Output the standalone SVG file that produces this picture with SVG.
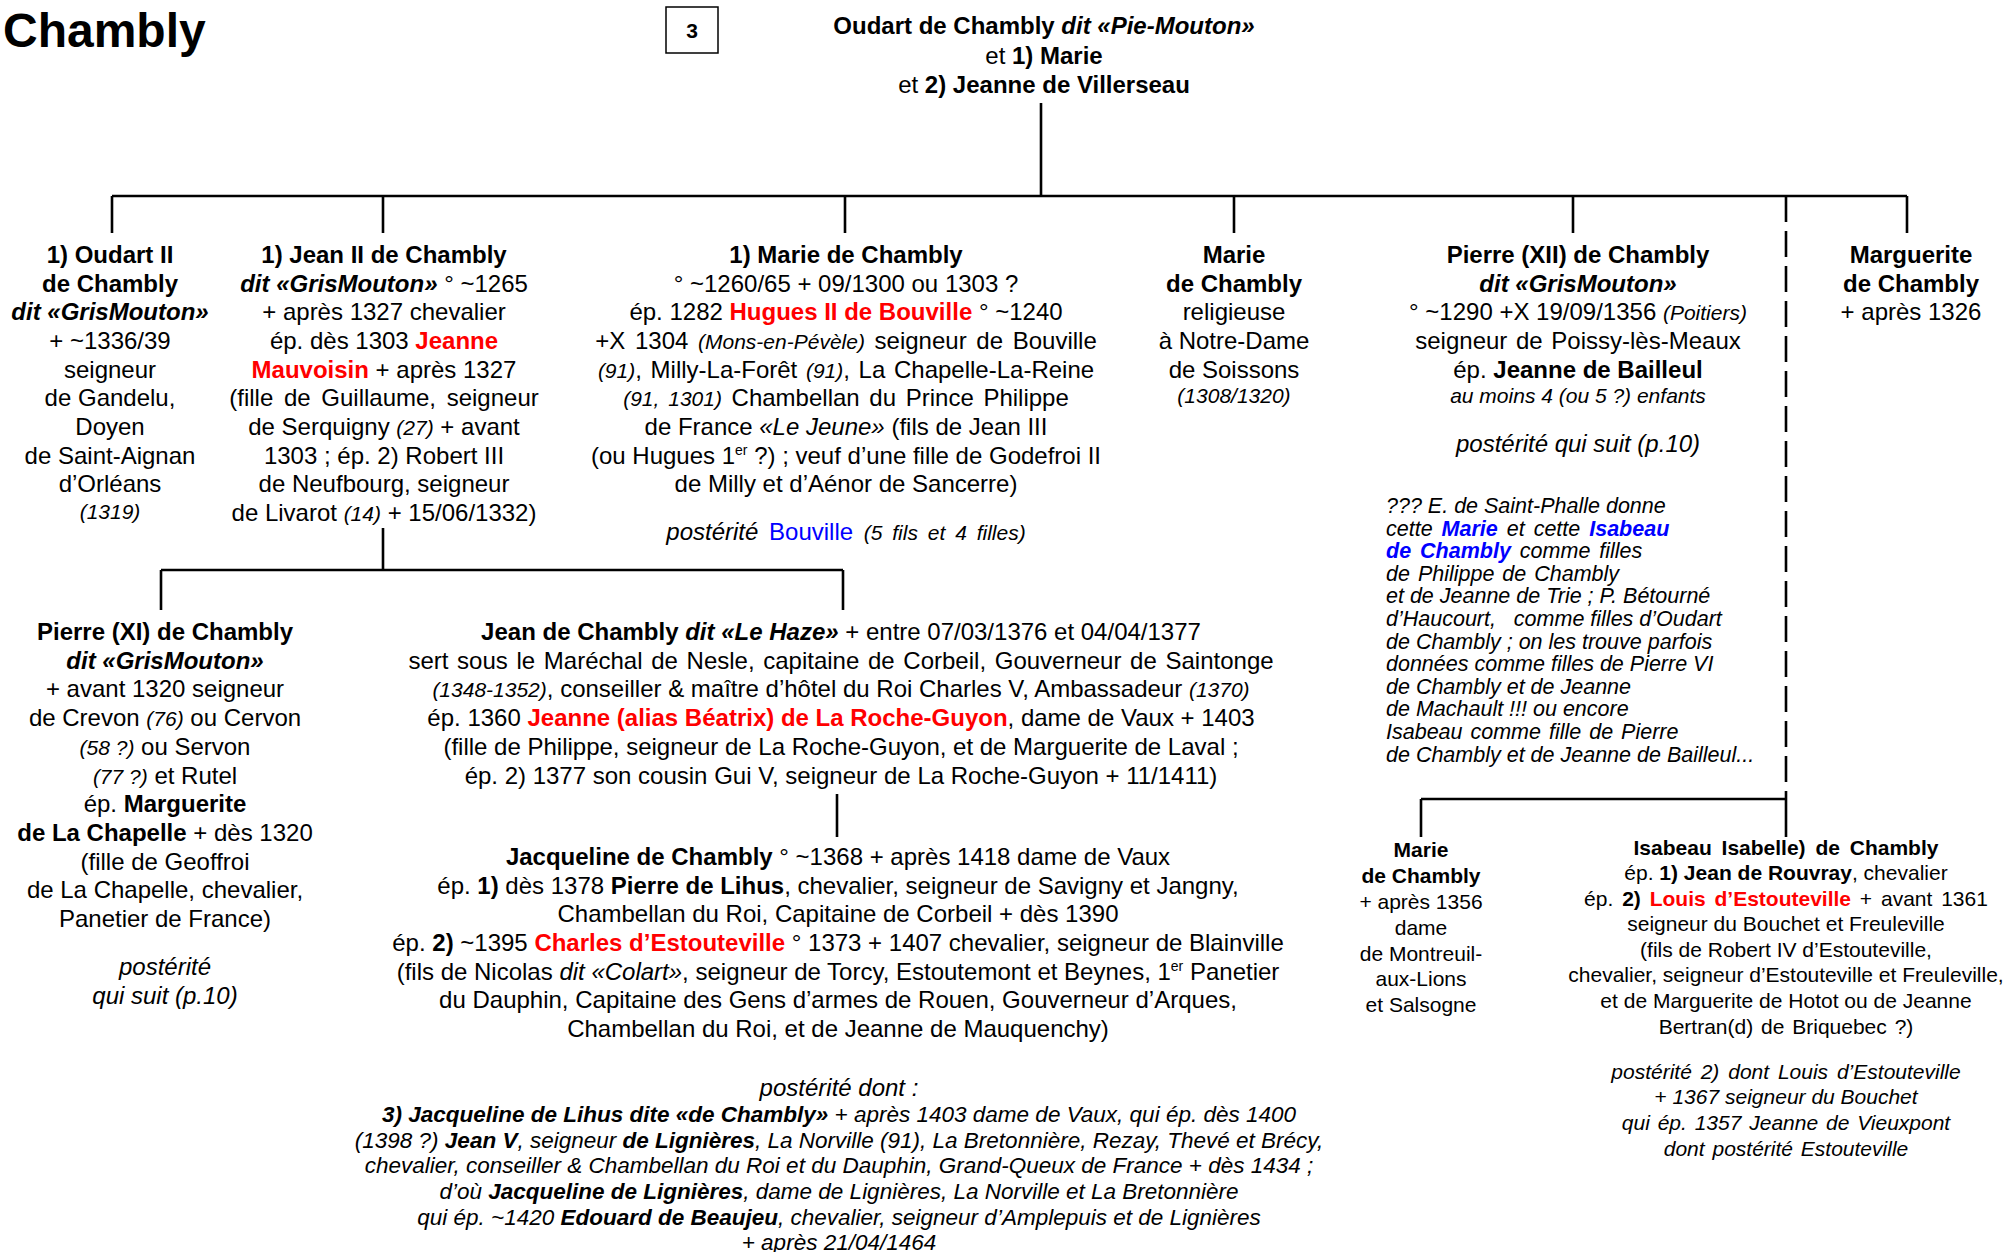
<svg xmlns="http://www.w3.org/2000/svg" width="2011" height="1252" viewBox="0 0 2011 1252">
<style>
text { font-family: "Liberation Sans", Arial, sans-serif; font-size: 24px; fill: #000; text-anchor: middle; }
.l { text-anchor: start; }
.s { font-size: 21px; }
.n { font-size: 21.5px; font-style: italic; }
.q { font-size: 22.5px; font-style: italic; }
.p { font-size: 21px; font-style: italic; }
.b { font-weight: bold; }
.i { font-style: italic; }
.r { fill: #FF0000; font-weight: bold; }
.bl { fill: #0000FF; }
.ln { stroke: #000; stroke-width: 2.6; fill: none; }
.dash { stroke-dasharray: 26 9; }
</style>
<rect width="2011" height="1252" fill="#FFFFFF"/>

<g id="title">
<text class="l b" x="3" y="47" style="font-size:48px">Chambly</text>
</g>
<g id="page-box">
<rect x="666" y="7" width="52" height="46" fill="#FFFFFF" stroke="#000" stroke-width="1.5"/>
<text class="b" x="692" y="38" style="font-size:21px">3</text>
</g>

<g id="connectors">
<path class="ln" d="M1041 103 V196"/>
<path class="ln" d="M112 196 H1907"/>
<path class="ln" d="M112 196 V233 M383 196 V233 M845 196 V233 M1234 196 V233 M1573 196 V233 M1907 196 V233"/>
<path class="ln dash" d="M1786 196 V799"/>
<path class="ln" d="M383 528 V570 M161 570 H843 M161 570 V610 M843 570 V610"/>
<path class="ln" d="M837 794 V837"/>
<path class="ln" d="M1421 799 H1786 M1421 799 V837 M1786 799 V837"/>
</g>

<g id="oudart">
<text x="1044" y="34" class="b">Oudart de Chambly <tspan class="i">dit «Pie-Mouton»</tspan></text>
<text x="1044" y="64">et <tspan class="b">1) Marie</tspan></text>
<text x="1044" y="93">et <tspan class="b">2) Jeanne de Villerseau</tspan></text>
</g>

<g id="oudart-ii">
<text x="110" y="263" class="b">1) Oudart II</text>
<text x="110" y="292" class="b">de Chambly</text>
<text x="110" y="320" class="b i">dit «GrisMouton»</text>
<text x="110" y="349">+ ~1336/39</text>
<text x="110" y="378">seigneur</text>
<text x="110" y="406">de Gandelu,</text>
<text x="110" y="435">Doyen</text>
<text x="110" y="464">de Saint-Aignan</text>
<text x="110" y="492">d’Orléans</text>
<text x="110" y="519" class="p">(1319)</text>
</g>

<g id="jean-ii">
<text x="384" y="263" class="b">1) Jean II de Chambly</text>
<text x="384" y="292"><tspan class="b i">dit «GrisMouton»</tspan> ° ~1265</text>
<text x="384" y="320">+ après 1327 chevalier</text>
<text x="384" y="349">ép. dès 1303 <tspan class="r">Jeanne</tspan></text>
<text x="384" y="378"><tspan class="r">Mauvoisin</tspan> + après 1327</text>
<text x="384" y="406" word-spacing="4">(fille de Guillaume, seigneur</text>
<text x="384" y="435">de Serquigny <tspan class="p">(27)</tspan> + avant</text>
<text x="384" y="464">1303 ; ép. 2) Robert III</text>
<text x="384" y="492">de Neufbourg, seigneur</text>
<text x="384" y="521">de Livarot <tspan class="p">(14)</tspan> + 15/06/1332)</text>
</g>

<g id="marie-bouville">
<text x="846" y="263" class="b">1) Marie de Chambly</text>
<text x="846" y="292">° ~1260/65 + 09/1300 ou 1303 ?</text>
<text x="846" y="320">ép. 1282 <tspan class="r">Hugues II de Bouville</tspan> ° ~1240</text>
<text x="846" y="349" word-spacing="3">+X 1304 <tspan class="p">(Mons-en-Pévèle)</tspan> seigneur de Bouville</text>
<text x="846" y="378" word-spacing="2"><tspan class="p">(91)</tspan>, Milly-La-Forêt <tspan class="p">(91)</tspan>, La Chapelle-La-Reine</text>
<text x="846" y="406" word-spacing="3"><tspan class="p">(91, 1301)</tspan> Chambellan du Prince Philippe</text>
<text x="846" y="435">de France <tspan class="i">«Le Jeune»</tspan> (fils de Jean III</text>
<text x="846" y="464">(ou Hugues 1<tspan style="font-size:14px" dy="-9">er</tspan><tspan dy="9"> ?) ; veuf d’une fille de Godefroi II</tspan></text>
<text x="846" y="492">de Milly et d’Aénor de Sancerre)</text>
<text x="846" y="540" word-spacing="4"><tspan class="i">postérité</tspan> <tspan class="bl">Bouville</tspan> <tspan class="p">(5 fils et 4 filles)</tspan></text>
</g>

<g id="marie-religieuse">
<text x="1234" y="263" class="b">Marie</text>
<text x="1234" y="292" class="b">de Chambly</text>
<text x="1234" y="320">religieuse</text>
<text x="1234" y="349">à Notre-Dame</text>
<text x="1234" y="378">de Soissons</text>
<text x="1234" y="403" class="p">(1308/1320)</text>
</g>

<g id="pierre-xii">
<text x="1578" y="263" class="b">Pierre (XII) de Chambly</text>
<text x="1578" y="292" class="b i">dit «GrisMouton»</text>
<text x="1578" y="320">° ~1290 +X 19/09/1356 <tspan class="p">(Poitiers)</tspan></text>
<text x="1578" y="349" word-spacing="2">seigneur de Poissy-lès-Meaux</text>
<text x="1578" y="378">ép. <tspan class="b">Jeanne de Bailleul</tspan></text>
<text x="1578" y="403" class="p">au moins 4 (ou 5 ?) enfants</text>
<text x="1578" y="452" class="i">postérité qui suit (p.10)</text>
</g>

<g id="marguerite">
<text x="1911" y="263" class="b">Marguerite</text>
<text x="1911" y="292" class="b">de Chambly</text>
<text x="1911" y="320">+ après 1326</text>
</g>

<g id="note">
<text class="l n" x="1386" y="513">??? E. de Saint-Phalle donne</text>
<text class="l n" x="1386" y="536" word-spacing="3">cette <tspan class="b bl">Marie</tspan> et cette <tspan class="b bl">Isabeau</tspan></text>
<text class="l n" x="1386" y="558" word-spacing="3"><tspan class="b bl">de Chambly</tspan> comme filles</text>
<text class="l n" x="1386" y="581" word-spacing="2">de Philippe de Chambly</text>
<text class="l n" x="1386" y="603">et de Jeanne de Trie ; P. Bétourné</text>
<text class="l n" x="1386" y="626" xml:space="preserve">d’Haucourt,   comme filles d’Oudart</text>
<text class="l n" x="1386" y="649">de Chambly ; on les trouve parfois</text>
<text class="l n" x="1386" y="671">données comme filles de Pierre VI</text>
<text class="l n" x="1386" y="694">de Chambly et de Jeanne</text>
<text class="l n" x="1386" y="716">de Machault !!! ou encore</text>
<text class="l n" x="1386" y="739" word-spacing="2">Isabeau comme fille de Pierre</text>
<text class="l n" x="1386" y="762">de Chambly et de Jeanne de Bailleul...</text>
</g>

<g id="pierre-xi">
<text x="165" y="640" class="b">Pierre (XI) de Chambly</text>
<text x="165" y="669" class="b i">dit «GrisMouton»</text>
<text x="165" y="697">+ avant 1320 seigneur</text>
<text x="165" y="726">de Crevon <tspan class="p">(76)</tspan> ou Cervon</text>
<text x="165" y="755"><tspan class="p">(58 ?)</tspan> ou Servon</text>
<text x="165" y="784"><tspan class="p">(77 ?)</tspan> et Rutel</text>
<text x="165" y="812">ép. <tspan class="b">Marguerite</tspan></text>
<text x="165" y="841"><tspan class="b">de La Chapelle</tspan> + dès 1320</text>
<text x="165" y="870">(fille de Geoffroi</text>
<text x="165" y="898">de La Chapelle, chevalier,</text>
<text x="165" y="927">Panetier de France)</text>
<text x="165" y="975" class="i">postérité</text>
<text x="165" y="1004" class="i">qui suit (p.10)</text>
</g>

<g id="jean-le-haze">
<text x="841" y="640"><tspan class="b">Jean de Chambly <tspan class="i">dit «Le Haze»</tspan></tspan> + entre 07/03/1376 et 04/04/1377</text>
<text x="841" y="669" word-spacing="2">sert sous le Maréchal de Nesle, capitaine de Corbeil, Gouverneur de Saintonge</text>
<text x="841" y="697"><tspan class="p">(1348-1352)</tspan>, conseiller &amp; maître d’hôtel du Roi Charles V, Ambassadeur <tspan class="p">(1370)</tspan></text>
<text x="841" y="726">ép. 1360 <tspan class="r">Jeanne (alias Béatrix) de La Roche-Guyon</tspan>, dame de Vaux + 1403</text>
<text x="841" y="755">(fille de Philippe, seigneur de La Roche-Guyon, et de Marguerite de Laval ;</text>
<text x="841" y="784">ép. 2) 1377 son cousin Gui V, seigneur de La Roche-Guyon + 11/1411)</text>
</g>

<g id="jacqueline">
<text x="838" y="865"><tspan class="b">Jacqueline de Chambly</tspan> ° ~1368 + après 1418 dame de Vaux</text>
<text x="838" y="894">ép. <tspan class="b">1)</tspan> dès 1378 <tspan class="b">Pierre de Lihus</tspan>, chevalier, seigneur de Savigny et Jangny,</text>
<text x="838" y="922">Chambellan du Roi, Capitaine de Corbeil + dès 1390</text>
<text x="838" y="951">ép. <tspan class="b">2)</tspan> ~1395 <tspan class="r">Charles d’Estouteville</tspan> ° 1373 + 1407 chevalier, seigneur de Blainville</text>
<text x="838" y="980">(fils de Nicolas <tspan class="i">dit «Colart»</tspan>, seigneur de Torcy, Estoutemont et Beynes, 1<tspan style="font-size:14px" dy="-9">er</tspan><tspan dy="9"> Panetier</tspan></text>
<text x="838" y="1008">du Dauphin, Capitaine des Gens d’armes de Rouen, Gouverneur d’Arques,</text>
<text x="838" y="1037">Chambellan du Roi, et de Jeanne de Mauquenchy)</text>
</g>

<g id="posterite-jacqueline">
<text x="839" y="1096" class="i">postérité dont :</text>
<text x="839" y="1122" class="q"><tspan class="b">3) Jacqueline de Lihus dite «de Chambly»</tspan> + après 1403 dame de Vaux, qui ép. dès 1400</text>
<text x="839" y="1148" class="q">(1398 ?) <tspan class="b">Jean V</tspan>, seigneur <tspan class="b">de Lignières</tspan>, La Norville (91), La Bretonnière, Rezay, Thevé et Brécy,</text>
<text x="839" y="1173" class="q">chevalier, conseiller &amp; Chambellan du Roi et du Dauphin, Grand-Queux de France + dès 1434 ;</text>
<text x="839" y="1199" class="q">d’où <tspan class="b">Jacqueline de Lignières</tspan>, dame de Lignières, La Norville et La Bretonnière</text>
<text x="839" y="1225" class="q">qui ép. ~1420 <tspan class="b">Edouard de Beaujeu</tspan>, chevalier, seigneur d’Amplepuis et de Lignières</text>
<text x="839" y="1250" class="q">+ après 21/04/1464</text>
</g>

<g id="marie-montreuil">
<text x="1421" y="857" class="s b">Marie</text>
<text x="1421" y="883" class="s b">de Chambly</text>
<text x="1421" y="909" class="s">+ après 1356</text>
<text x="1421" y="935" class="s">dame</text>
<text x="1421" y="961" class="s">de Montreuil-</text>
<text x="1421" y="986" class="s">aux-Lions</text>
<text x="1421" y="1012" class="s">et Salsogne</text>
</g>

<g id="isabeau">
<text x="1786" y="855" class="s b" word-spacing="4">Isabeau Isabelle) de Chambly</text>
<text x="1786" y="880" class="s">ép. <tspan class="b">1) Jean de Rouvray</tspan>, chevalier</text>
<text x="1786" y="906" class="s" word-spacing="3">ép. <tspan class="b">2)</tspan> <tspan class="r">Louis d’Estouteville</tspan> + avant 1361</text>
<text x="1786" y="931" class="s">seigneur du Bouchet et Freuleville</text>
<text x="1786" y="957" class="s">(fils de Robert IV d’Estouteville,</text>
<text x="1786" y="982" class="s">chevalier, seigneur d’Estouteville et Freuleville,</text>
<text x="1786" y="1008" class="s">et de Marguerite de Hotot ou de Jeanne</text>
<text x="1786" y="1034" class="s" word-spacing="2">Bertran(d) de Briquebec ?)</text>
<text x="1786" y="1079" class="s i" word-spacing="3">postérité 2) dont Louis d’Estouteville</text>
<text x="1786" y="1104" class="s i">+ 1367 seigneur du Bouchet</text>
<text x="1786" y="1130" class="s i" word-spacing="2">qui ép. 1357 Jeanne de Vieuxpont</text>
<text x="1786" y="1156" class="s i" word-spacing="2">dont postérité Estouteville</text>
</g>
</svg>
